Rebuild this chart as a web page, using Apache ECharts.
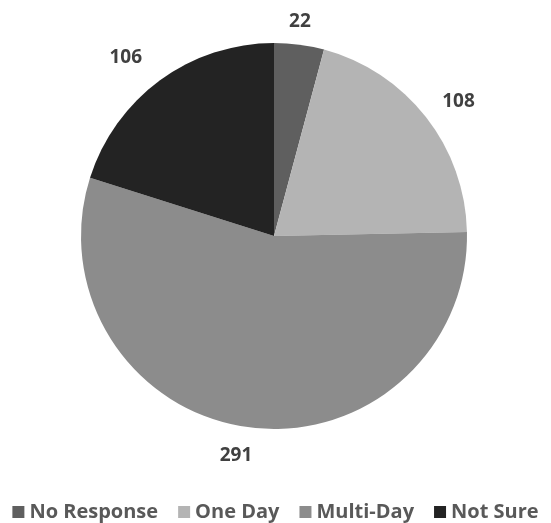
<!DOCTYPE html>
<html lang="en">
<head>
  <meta charset="UTF-8">
  <title>Pie</title>
  <style>
    html, body { margin: 0; padding: 0; background: #fff; }
  </style>
</head>
<body>
  <div id="main" style="width: 551px;height:523px;"></div>
  <script src="https://cdn.jsdelivr.net/npm/echarts@6/dist/echarts.min.js"></script>
  <script type="text/javascript">
    var categories = ['No Response', 'One Day', 'Multi-Day', 'Not Sure'];
    var counts = [22, 108, 291, 106];
    var colors = ['#5f5f5f', '#b4b4b4', '#8c8c8c', '#232323'];

    var myChart = echarts.init(document.getElementById('main'));

    // small nudges so labels sit where the original ones do
    var labelNudge = [[-18, -1], [-6, -2], [14, 7], [0, -5]];

    var pieData = categories.map(function (name, i) {
      return {
        name: name,
        value: counts[i],
        itemStyle: { color: colors[i] },
        label: { offset: labelNudge[i] }
      };
    });

    var option = {
      backgroundColor: '#fff',
      animation: false,
      legend: {
        top: 497,
        left: 'center',
        itemWidth: 12,
        itemHeight: 12,
        itemGap: 20,
        icon: 'rect',
        textStyle: {
          fontFamily: 'Open Sans',
          fontWeight: 'bold',
          fontSize: 20,
          color: '#595959'
        },
        data: categories
      },
      series: [{
        type: 'pie',
        center: [274, 236],
        radius: 193,
        startAngle: 90,
        clockwise: true,
        label: {
          show: true,
          position: 'outside',
          formatter: '{c}',
          fontFamily: 'Open Sans',
          fontWeight: 'bold',
          fontSize: 19,
          color: '#404040'
        },
        labelLine: { show: false, length: 22, length2: 0 },
        emphasis: { disabled: true },
        data: pieData
      }]
    };

    myChart.setOption(option);
  </script>
</body>
</html>
